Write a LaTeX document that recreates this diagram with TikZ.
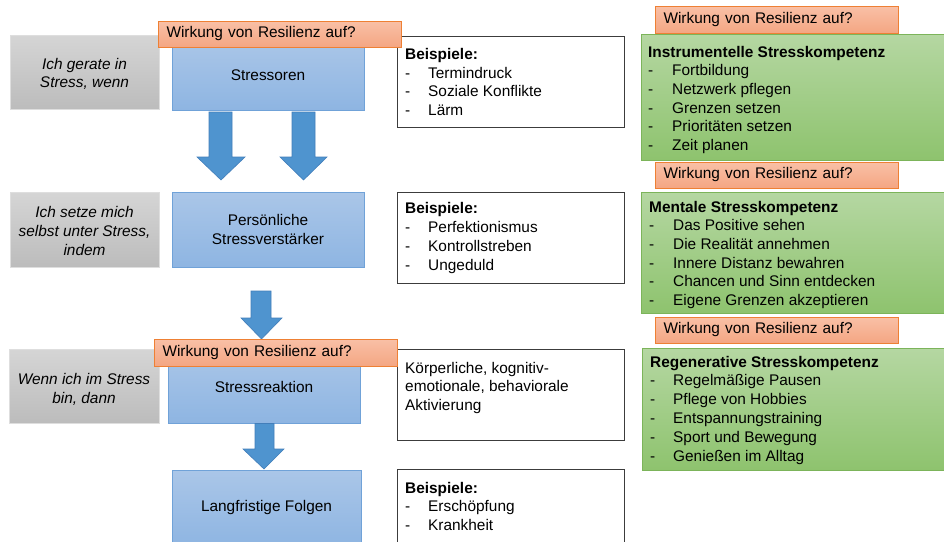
\documentclass[tikz,border=0pt]{standalone}
\usepackage{fontspec}
\setmainfont{Liberation Sans}
\definecolor{grayT}{RGB}{213,213,213}
\definecolor{grayBo}{RGB}{188,188,188}
\definecolor{grayD}{RGB}{222,222,222}
\definecolor{blueT}{RGB}{170,198,232}
\definecolor{blueBo}{RGB}{142,181,226}
\definecolor{blueD}{RGB}{112,162,216}
\definecolor{oraT}{RGB}{249,192,166}
\definecolor{oraBo}{RGB}{244,166,131}
\definecolor{oraD}{RGB}{238,128,52}
\definecolor{greT}{RGB}{181,215,162}
\definecolor{greBo}{RGB}{142,195,110}
\definecolor{greD}{RGB}{124,180,90}
\definecolor{arrF}{RGB}{79,148,207}
\definecolor{arrD}{RGB}{66,126,186}
\definecolor{boxD}{RGB}{60,60,60}
\newcommand\txtfont{\fontsize{15.4}{18.6}\selectfont}
\newcommand\itm[1]{\makebox[23pt][l]{-}#1}
\newcommand\gitm[1]{\makebox[24pt][l]{-}#1}
\begin{document}
\begin{tikzpicture}[x=1pt,y=-1pt,
  box/.style={inner sep=0pt, outer sep=0pt, anchor=north west, line width=0.9pt},
  graybox/.style={box, draw=grayD, top color=grayT, bottom color=grayBo},
  bluebox/.style={box, draw=blueD, top color=blueT, bottom color=blueBo},
  whitebox/.style={box, draw=boxD, fill=white, line width=1pt},
  greenbox/.style={box, draw=greD, top color=greT, bottom color=greBo},
  orangebox/.style={box, draw=oraD, top color=oraT, bottom color=oraBo, text width=226pt, inner xsep=8.5pt, inner ysep=0pt, align=left, font=\txtfont},
  graytext/.style={inner sep=0pt, align=center, font=\txtfont\itshape, yshift=-2pt},
  bluetext/.style={inner sep=0pt, align=center, font=\txtfont},
  listtext/.style={inner sep=0pt, anchor=north west, align=left, font=\txtfont},
  blockarrow/.style={fill=arrF, draw=arrD, line width=0.6pt, line join=miter}
]
\useasboundingbox (0,0) rectangle (944,541);
\clip (0,0) rectangle (944,541);
\fill[white] (0,0) rectangle (944,541);

% left gray boxes
\node[graybox, minimum width=149pt, minimum height=74pt] (g1) at (10,35) {};
\node[graybox, minimum width=149pt, minimum height=75pt] (g2) at (10,192) {};
\node[graybox, minimum width=150pt, minimum height=74pt] (g3) at (9,349) {};
\node[graytext] (g1t) at (g1.center) {Ich gerate in\\Stress, wenn};
\node[graytext, yshift=0.5pt] (g2t) at (g2.center) {Ich setze mich\\selbst unter Stress,\\indem};
\node[graytext, yshift=-1.5pt] (g3t) at (g3.center) {Wenn ich im Stress\\bin, dann};

% blue boxes
\node[bluebox, minimum width=192pt, minimum height=70pt] (b1) at (172,40) {};
\node[bluebox, minimum width=192pt, minimum height=75pt] (b2) at (172,192) {};
\node[bluebox, minimum width=192pt, minimum height=72pt] (b3) at (168,351) {};
\node[bluebox, minimum width=189pt, minimum height=76pt] (b4) at (172,470) {};
\node[bluetext] (b1t) at (b1.center) {Stressoren};
\node[bluetext] (b2t) at (b2.center) {Persönliche\\Stressverstärker};
\node[bluetext] (b3t) at (b3.center) {Stressreaktion};
\node[bluetext] (b4t) at (b4.center) {Langfristige Folgen};

% block arrows
\draw[blockarrow] (209,112) -- (232,112) -- (232,157) -- (245,157) -- (221,180) -- (197,157) -- (209,157) -- cycle;
\draw[blockarrow] (292,112) -- (315,112) -- (315,157) -- (327,157) -- (303.5,180) -- (280,157) -- (292,157) -- cycle;
\draw[blockarrow] (251,291) -- (271,291) -- (271,318) -- (282,318) -- (261.5,339) -- (241,318) -- (251,318) -- cycle;
\draw[blockarrow] (255,423.5) -- (274,423.5) -- (274,449) -- (284,449) -- (264,469) -- (243,449) -- (255,449) -- cycle;

% white boxes
\node[whitebox, minimum width=227pt, minimum height=91pt] (w1) at (397,36) {};
\node[whitebox, minimum width=227pt, minimum height=91pt] (w2) at (397,192) {};
\node[whitebox, minimum width=227pt, minimum height=91pt] (w3) at (397,349) {};
\node[whitebox, minimum width=227pt, minimum height=90pt] (w4) at (397,469) {};
\node[listtext] (w1t) at (405,46.5) {\strut\textbf{Beispiele:}\\\itm{Termindruck}\\\itm{Soziale Konflikte}\\\itm{Lärm}};
\node[listtext, font=\fontsize{15.4}{19.1}\selectfont] (w2t) at (405,199.6) {\strut\textbf{Beispiele:}\\\itm{Perfektionismus}\\\itm{Kontrollstreben}\\\itm{Ungeduld}};
\node[listtext] (w3t) at (405,360) {\strut Körperliche, kognitiv-\\emotionale, behaviorale\\Aktivierung};
\node[listtext] (w4t) at (405,480) {\strut\textbf{Beispiele:}\\\itm{Erschöpfung}\\\itm{Krankheit}};

% green boxes
\node[greenbox, minimum width=305pt, minimum height=126pt] (gr1) at (641,34) {};
\node[greenbox, minimum width=305pt, minimum height=121pt] (gr2) at (641,192) {};
\node[greenbox, minimum width=304pt, minimum height=122pt] (gr3) at (642,348) {};
\node[listtext] (gr1t) at (648,44) {\strut\textbf{Instrumentelle Stresskompetenz}\\\gitm{Fortbildung}\\\gitm{Netzwerk pflegen}\\\gitm{Grenzen setzen}\\\gitm{Prioritäten setzen}\\\gitm{Zeit planen}};
\node[listtext] (gr2t) at (649,199) {\strut\textbf{Mentale Stresskompetenz}\\\gitm{Das Positive sehen}\\\gitm{Die Realität annehmen}\\\gitm{Innere Distanz bewahren}\\\gitm{Chancen und Sinn entdecken}\\\gitm{Eigene Grenzen akzeptieren}};
\node[listtext, font=\fontsize{15.4}{18.8}\selectfont] (gr3t) at (650,353.8) {\strut\textbf{Regenerative Stresskompetenz}\\\itm{Regelmäßige Pausen}\\\itm{Pflege von Hobbies}\\\itm{Entspannungstraining}\\\itm{Sport und Bewegung}\\\itm{Genießen im Alltag}};

% orange labels
\node[orangebox, minimum height=26pt] (o1) at (158,21) {Wirkung von Resilienz auf?};
\node[orangebox, minimum height=27pt] (o2) at (154,339) {Wirkung von Resilienz auf?};
\node[orangebox, minimum height=27pt] (o3) at (655,6) {Wirkung von Resilienz auf?};
\node[orangebox, minimum height=26pt] (o4) at (655,162) {Wirkung von Resilienz auf?};
\node[orangebox, minimum height=26pt] (o5) at (655,317) {Wirkung von Resilienz auf?};
\end{tikzpicture}
\end{document}
